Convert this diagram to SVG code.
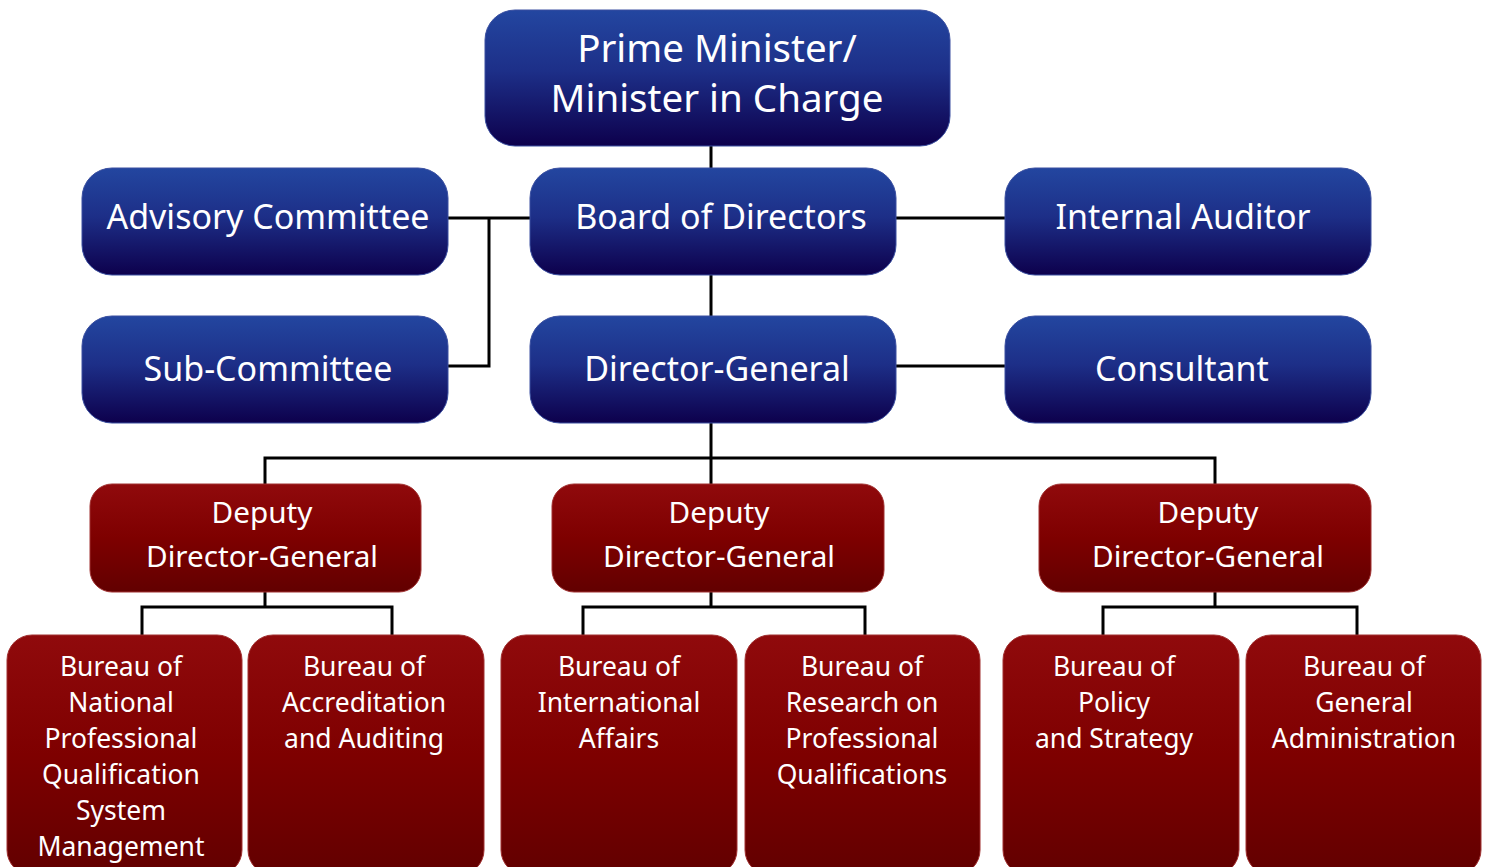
<svg xmlns="http://www.w3.org/2000/svg" width="1491" height="867" viewBox="0 0 1491 867">
<defs>
<linearGradient id="blue" x1="0" y1="0" x2="0" y2="1">
<stop offset="0" stop-color="#2346a0"/>
<stop offset="0.45" stop-color="#1d2f88"/>
<stop offset="1" stop-color="#0d004c"/>
</linearGradient>
<linearGradient id="red" x1="0" y1="0" x2="0" y2="1">
<stop offset="0" stop-color="#900a0c"/>
<stop offset="0.5" stop-color="#7e0000"/>
<stop offset="1" stop-color="#620000"/>
</linearGradient>
<style>
.b{fill:url(#blue);stroke:#3a4fa0;stroke-width:1}
.r{fill:url(#red);stroke:#a03030;stroke-width:1}
text{font-family:"Noto Sans","Open Sans","DejaVu Sans",sans-serif;fill:#fff;text-anchor:middle}
.t1{font-size:38.5px}
.t2{font-size:34px}
.t3{font-size:29.7px}
.t4{font-size:26.5px}
.c{fill:none;stroke:#000;stroke-width:3}
</style>
</defs>
<g id="connectors">
<path class="c" d="M711 146V168M711 275V316M448 218H530M489 218V366H448M896 218H1005M896 366H1005M711 423V458M265 484V458H1215V484M711 458V484"/>
<path class="c" d="M265 592V607M142 635V607H392V635M711 592V607M583 635V607H865V635M1215 592V607M1103 635V607H1357V635"/>
</g>
<g id="pm"><rect class="b" x="485" y="10" width="465" height="136" rx="30"/><text class="t1" x="717" y="62">Prime Minister/</text><text class="t1" x="717" y="112">Minister in Charge</text></g>
<g id="advisory"><rect class="b" x="82" y="168" width="366" height="107" rx="30"/><text class="t2" x="268" y="229">Advisory Committee</text></g>
<g id="board"><rect class="b" x="530" y="168" width="366" height="107" rx="30"/><text class="t2" x="721" y="229">Board of Directors</text></g>
<g id="auditor"><rect class="b" x="1005" y="168" width="366" height="107" rx="30"/><text class="t2" x="1183" y="229">Internal Auditor</text></g>
<g id="sub"><rect class="b" x="82" y="316" width="366" height="107" rx="30"/><text class="t2" x="268" y="381">Sub-Committee</text></g>
<g id="dg"><rect class="b" x="530" y="316" width="366" height="107" rx="30"/><text class="t2" x="717" y="381">Director-General</text></g>
<g id="consultant"><rect class="b" x="1005" y="316" width="366" height="107" rx="30"/><text class="t2" x="1182" y="381">Consultant</text></g>
<g id="ddg1"><rect class="r" x="90" y="484" width="331" height="108" rx="22"/><text class="t3" x="262" y="523">Deputy</text><text class="t3" x="262" y="567">Director-General</text></g>
<g id="ddg2"><rect class="r" x="552" y="484" width="332" height="108" rx="22"/><text class="t3" x="719" y="523">Deputy</text><text class="t3" x="719" y="567">Director-General</text></g>
<g id="ddg3"><rect class="r" x="1039" y="484" width="332" height="108" rx="22"/><text class="t3" x="1208" y="523">Deputy</text><text class="t3" x="1208" y="567">Director-General</text></g>
<g id="b1"><rect class="r" x="7" y="635" width="235" height="240" rx="25"/><text class="t4" x="121" y="676">Bureau of</text><text class="t4" x="121" y="712">National</text><text class="t4" x="121" y="748">Professional</text><text class="t4" x="121" y="784">Qualification</text><text class="t4" x="121" y="820">System</text><text class="t4" x="121" y="856">Management</text></g>
<g id="b2"><rect class="r" x="248" y="635" width="236" height="240" rx="25"/><text class="t4" x="364" y="676">Bureau of</text><text class="t4" x="364" y="712">Accreditation</text><text class="t4" x="364" y="748">and Auditing</text></g>
<g id="b3"><rect class="r" x="501" y="635" width="236" height="240" rx="25"/><text class="t4" x="619" y="676">Bureau of</text><text class="t4" x="619" y="712">International</text><text class="t4" x="619" y="748">Affairs</text></g>
<g id="b4"><rect class="r" x="745" y="635" width="235" height="240" rx="25"/><text class="t4" x="862" y="676">Bureau of</text><text class="t4" x="862" y="712">Research on</text><text class="t4" x="862" y="748">Professional</text><text class="t4" x="862" y="784">Qualifications</text></g>
<g id="b5"><rect class="r" x="1003" y="635" width="236" height="240" rx="25"/><text class="t4" x="1114" y="676">Bureau of</text><text class="t4" x="1114" y="712">Policy</text><text class="t4" x="1114" y="748">and Strategy</text></g>
<g id="b6"><rect class="r" x="1246" y="635" width="235" height="240" rx="25"/><text class="t4" x="1364" y="676">Bureau of</text><text class="t4" x="1364" y="712">General</text><text class="t4" x="1364" y="748">Administration</text></g>
</svg>
